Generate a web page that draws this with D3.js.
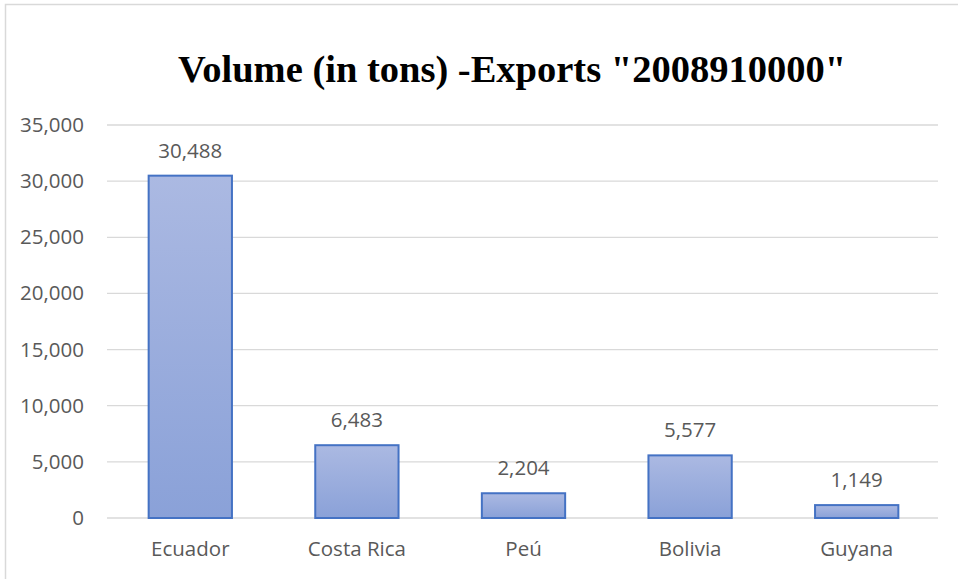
<!DOCTYPE html>
<html><head><meta charset="utf-8">
<script src="https://cdn.jsdelivr.net/npm/d3@7"></script>
<style>body{margin:0;background:#fff}svg{display:block}</style>
</head><body>
<script>
const categories = ["Ecuador", "Costa Rica", "Peú", "Bolivia", "Guyana"];
const values = [30488, 6483, 2204, 5577, 1149];
const yTicks = [0, 5000, 10000, 15000, 20000, 25000, 30000, 35000];
const title = 'Volume (in tons) -Exports "2008910000"';

const W = 958, H = 579;
const FONT = "'Open Sans', sans-serif";
const FS = 20.5;
const svg = d3.select("body").append("svg").attr("width", W).attr("height", H);

const defs = svg.append("defs");
const g = defs.append("linearGradient").attr("id", "bg").attr("x1", 0).attr("y1", 0).attr("x2", 0).attr("y2", 1);
g.append("stop").attr("offset", "0%").attr("stop-color", "#abb9e2");
g.append("stop").attr("offset", "100%").attr("stop-color", "#8aa1d8");

svg.append("rect").attr("x", 5.5).attr("y", 4.5).attr("width", W).attr("height", H)
  .attr("fill", "none").attr("stroke", "#d9d9d9").attr("stroke-width", 1.5);

const x = d3.scaleBand().domain(categories).range([107, 940]).paddingInner(0.5).paddingOuter(0.25);
const y = d3.scaleLinear().domain([0, 35000]).range([518, 125]);

svg.append("g").selectAll("line").data(yTicks).join("line")
  .attr("x1", 107).attr("x2", 938)
  .attr("y1", d => y(d)).attr("y2", d => y(d))
  .attr("stroke", "#d9d9d9").attr("stroke-width", 1.3);

const yAxis = d3.axisLeft(y).tickValues(yTicks).tickFormat(d3.format(",")).tickSize(0).tickPadding(0);
const ya = svg.append("g").attr("transform", "translate(84,0)").call(yAxis);
ya.select(".domain").remove();
ya.selectAll("text").attr("font-family", FONT).attr("font-size", FS).attr("fill", "#595959");

const xAxis = d3.axisBottom(x).tickSize(0).tickPadding(0);
const xa = svg.append("g").attr("transform", "translate(0,541)").call(xAxis);
xa.select(".domain").remove();
xa.selectAll("text").attr("font-family", FONT).attr("font-size", FS).attr("fill", "#595959");

svg.append("g").selectAll("rect").data(values).join("rect")
  .attr("x", (d, i) => x(categories[i]))
  .attr("width", x.bandwidth())
  .attr("y", d => y(d))
  .attr("height", d => y(0) - y(d))
  .attr("fill", "url(#bg)").attr("stroke", "#4472c4").attr("stroke-width", 2);

svg.append("g").selectAll("text").data(values).join("text")
  .attr("x", (d, i) => x(categories[i]) + x.bandwidth() / 2)
  .attr("y", d => y(d) - 18)
  .attr("text-anchor", "middle")
  .attr("font-family", FONT).attr("font-size", FS).attr("fill", "#595959")
  .text(d => d3.format(",")(d));

svg.append("text").attr("x", 512).attr("y", 82).attr("text-anchor", "middle")
  .attr("font-family", "'Liberation Serif', 'Times New Roman', serif").attr("font-weight", "bold")
  .attr("font-size", 38.5).attr("fill", "#000").text(title);
</script>
</body></html>
